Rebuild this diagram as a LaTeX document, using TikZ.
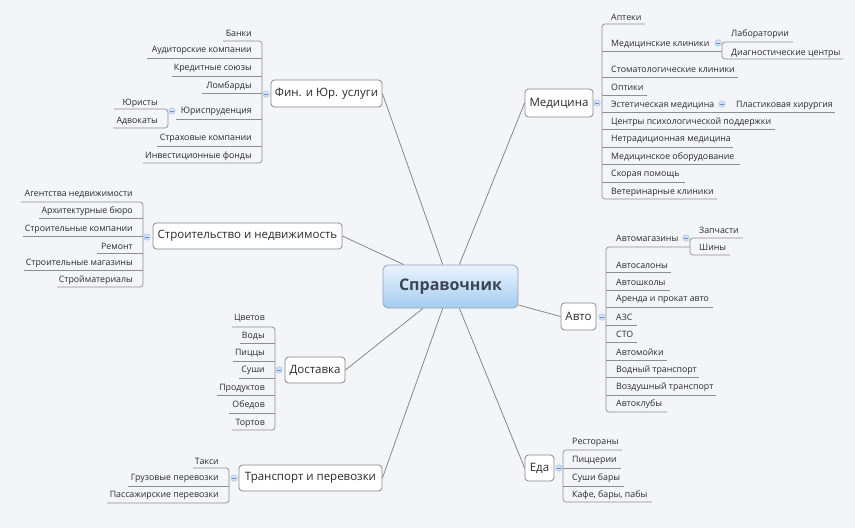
\documentclass[tikz,border=0pt]{standalone}
\usepackage{fontspec}
\setmainfont{Open Sans}
\definecolor{bgc}{HTML}{F4F5F9}
\definecolor{ulc}{HTML}{8E8E8E}
\definecolor{conc}{HTML}{7C7C7C}
\definecolor{boxc}{HTML}{8A8A8A}
\definecolor{txtc}{HTML}{2A2A2A}
\definecolor{ctop}{HTML}{EAF3FD}
\definecolor{cbot}{HTML}{A4CCF0}
\definecolor{cbrd}{HTML}{93A3B5}
\definecolor{ctxt}{HTML}{3B4552}
\definecolor{mkfill}{HTML}{D3E2F4}
\definecolor{mkdraw}{HTML}{A9C3E3}
\definecolor{mkminus}{HTML}{5E8ECF}
\tikzset{
  leaf/.style={font=\fontsize{8.8}{10}\selectfont, text=txtc, inner sep=0pt},
  uline/.style={draw=ulc, line width=0.7pt},
  conn/.style={draw=conc, line width=0.7pt},
  topic/.style={draw=boxc, fill=white, line width=0.8pt, rounded corners=3.5pt,
    font=\fontsize{11.5}{14}\selectfont, text=txtc, inner sep=0pt},
  central/.style={draw=cbrd, line width=0.8pt, rounded corners=5pt,
    top color=ctop, bottom color=cbot, font=\fontsize{16}{18}\bfseries\selectfont,
    text=ctxt, inner sep=0pt, minimum width=135pt, minimum height=43pt},
  marker/.style={circle, draw=mkdraw, fill=mkfill, line width=0.5pt,
    minimum size=6.5pt, inner sep=0pt,
    path picture={\draw[mkminus, line width=0.6pt]
      ([xshift=-1.8pt]path picture bounding box.center) --
      ([xshift=1.8pt]path picture bounding box.center);}}
}
% right-side branch: #1 prefix, #2 spine x, #3 text x, #4 count, #5 list
\newcommand\branchR[5]{%
  \foreach \t/\yt/\yl/\xe [count=\i] in {#5} {
    \node[leaf, anchor=base west, yshift=-3.3pt] (#1-\i) at (#3,\yt) {\t};
    \ifnum\i=1 \xdef\firsty{\yl}\xdef\firstx{\xe}\fi
    \ifnum\i=#4 \draw[uline, rounded corners=3pt] (\firstx,\firsty) -- (#2,\firsty) -- (#2,\yl) -- (\xe,\yl);\fi
    \ifnum\i>1 \ifnum\i<#4 \draw[uline] (#2,\yl) -- (\xe,\yl);\fi\fi
  }%
}
% left-side branch
\newcommand\branchL[5]{%
  \foreach \t/\yt/\yl/\xe [count=\i] in {#5} {
    \node[leaf, anchor=base east, yshift=-3.3pt] (#1-\i) at (#3,\yt) {\t};
    \ifnum\i=1 \xdef\firsty{\yl}\xdef\firstx{\xe}\fi
    \ifnum\i=#4 \draw[uline, rounded corners=3pt] (\firstx,\firsty) -- (#2,\firsty) -- (#2,\yl) -- (\xe,\yl);\fi
    \ifnum\i>1 \ifnum\i<#4 \draw[uline] (#2,\yl) -- (\xe,\yl);\fi\fi
  }%
}
\begin{document}
\begin{tikzpicture}[x=1pt, y=-1pt]
\fill[bgc] (0,0) rectangle (855,528);
\useasboundingbox (0,0) rectangle (855,528);

% central and main topics
\node[central] (c) at (450.5,286.5) {Справочник};
\node[topic, minimum width=111pt, minimum height=27pt] (fin) at (326.5,93.5) {Фин. и Юр. услуги};
\node[topic, minimum width=68pt, minimum height=28pt] (med) at (559,103) {Медицина};
\node[topic, minimum width=189pt, minimum height=26pt] (str) at (247.5,236) {Строительство и недвижимость};
\node[topic, minimum width=35pt, minimum height=27pt] (avto) at (578.5,316.5) {Авто};
\node[topic, minimum width=60pt, minimum height=26pt] (dos) at (315,370) {Доставка};
\node[topic, minimum width=143pt, minimum height=26pt] (tr) at (310.5,478) {Транспорт и перевозки};
\node[topic, minimum width=29pt, minimum height=26pt] (eda) at (539.5,468) {Еда};

\draw[conn] (c) -- (fin.east);
\draw[conn] (c) -- (med.west);
\draw[conn] (c) -- (str.east);
\draw[conn] (c) -- (avto.west);
\draw[conn] (c) -- (dos.east);
\draw[conn] (c) -- (tr.east);
\draw[conn] (c) -- (eda.west);

% Фин. и Юр. услуги
\branchL{fi}{262}{252}{7}{Банки/33/41/223, Аудиторские компании/49/58/147, Кредитные союзы/67/76/172,
  Ломбарды/85/93/202, Юриспруденция/110/119/176, Страховые компании/137/146/157,
  Инвестиционные фонды/155/163/143}
\branchL{ju}{168}{158}{2}{Юристы/102/109/114, Адвокаты/120/128/113}
\node[marker] (mfin) at (266,94) {};
\node[marker] (mju) at (172,111) {};

% Медицина
\branchR{me}{602}{611}{10}{Аптеки/17/24/645, Медицинские клиники/43/51/722,
  Стоматологические клиники/69/77/738, Оптики/87/95/647, Эстетическая медицина/104/112/835,
  Центры психологической поддержки/121/129/775, Нетрадиционная медицина/138/147/733,
  Медицинское оборудование/156/164/740, Скорая помощь/173/182/685, Ветеринарные клиники/191/199/717}
\branchR{mk}{722}{731}{2}{Лаборатории/33/42/793, Диагностические центры/52/59/843}
\node[leaf, anchor=base west, yshift=-3.3pt] (pl) at (736,104) {Пластиковая хирургия};
\node[marker] (mmed) at (597,103) {};
\node[marker] (mmk) at (718,43) {};
\node[marker] (mes) at (722,104) {};

% Строительство
\branchL{st}{143}{133}{6}{Агентства недвижимости/193/202/21, Архитектурные бюро/210/218/39,
  Строительные компании/228/236/23, Ремонт/246/253/97, Строительные магазины/262/270/24,
  Стройматериалы/279/287/57}
\node[marker] (mstr) at (147,237) {};

% Авто
\branchR{av}{606}{616}{10}{Автомагазины/238/247/690, Автосалоны/265/272/671, Автошколы/282/290/670,
  Аренда и прокат авто/298/307/713, АЗС/317/325/637, СТО/334/342/637, Автомойки/352/360/667,
  Водный транспорт/369/377/699, Воздушный транспорт/386/395/716, Автоклубы/403/412/667}
\branchR{am}{690}{699}{2}{Запчасти/230/238/743, Шины/247/255/730}
\node[marker] (mav) at (602,317) {};
\node[marker] (mam) at (686,238) {};

% Доставка
\branchL{do}{275}{265}{7}{Цветов/317/327/232, Воды/335/343/240, Пиццы/352/361/233, Суши/369/378/239,
  Продуктов/387/395/217, Обедов/404/413/229, Тортов/422/430/232}
\node[marker] (mdos) at (279,370) {};

% Транспорт
\branchL{tp}{229}{219}{3}{Такси/461/468/193, Грузовые перевозки/477/486/128,
  Пассажирские перевозки/494/503/107}
\node[marker] (mtr) at (234,478) {};

% Еда
\branchR{ed}{563}{572}{4}{Рестораны/441/450/622, Пиццерии/459/468/621, Суши бары/477/486/624,
  {Кафе, бары, пабы}/494/502/652}
\node[marker] (meda) at (559,468) {};
\end{tikzpicture}
\end{document}
